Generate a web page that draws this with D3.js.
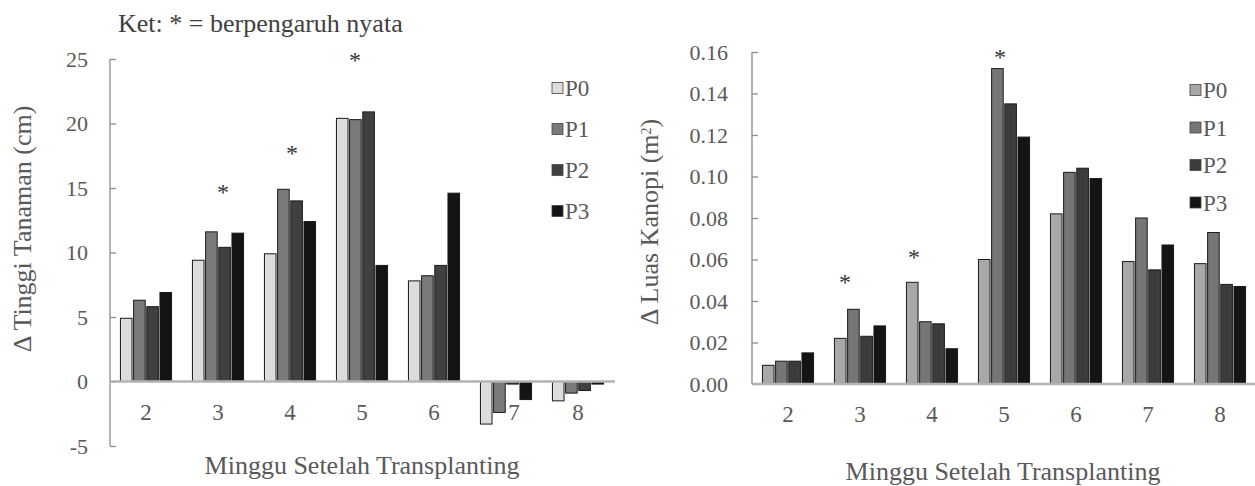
<!DOCTYPE html>
<meta charset="utf-8">
<style>
  body { margin: 0; background: #fff; }
  svg text { fill: #595959; }
</style>
<body></body>
<script src="https://d3js.org/d3.v7.min.js"></script>
<script>
  var weeks = ["2", "3", "4", "5", "6", "7", "8"];
  var series = ["P0", "P1", "P2", "P3"];

  // delta plant height (cm), one array per treatment
  var tinggiP0 = [4.9, 9.4, 9.9, 20.4, 7.8, -3.3, -1.5];
  var tinggiP1 = [6.3, 11.6, 14.9, 20.3, 8.2, -2.4, -0.9];
  var tinggiP2 = [5.8, 10.4, 14.0, 20.9, 9.0, -0.2, -0.7];
  var tinggiP3 = [6.9, 11.5, 12.4, 9.0, 14.6, -1.4, -0.2];
  var tinggiTicks = [-5, 0, 5, 10, 15, 20, 25];
  var tinggiStars = [null, 15.0, 18.0, 25.2, null, null, null];

  // delta canopy area (m2)
  var luasP0 = [0.009, 0.022, 0.049, 0.060, 0.082, 0.059, 0.058];
  var luasP1 = [0.011, 0.036, 0.030, 0.152, 0.102, 0.080, 0.073];
  var luasP2 = [0.011, 0.023, 0.029, 0.135, 0.104, 0.055, 0.048];
  var luasP3 = [0.015, 0.028, 0.017, 0.119, 0.099, 0.067, 0.047];
  var luasTicks = [0, 0.02, 0.04, 0.06, 0.08, 0.10, 0.12, 0.14, 0.16];
  var luasStars = [null, 0.051, 0.063, 0.1595, null, null, null];

  var serif = "'Liberation Serif'";

  var svg = d3.select("body").append("svg")
    .attr("width", 1255)
    .attr("height", 486);

  function label(sel) {
    return sel.append("text").style("font-family", serif);
  }

  function drawChart(opt) {
    var x = d3.scaleBand().domain(weeks).range([opt.left, opt.right]).paddingInner(0.29).paddingOuter(0.145);
    var xs = d3.scaleBand().domain(series).range([0, x.bandwidth()]).paddingInner(0.12);
    var y = d3.scaleLinear().domain(opt.domain).range([opt.bottom, opt.top]);

    var g = svg.append("g");

    // y axis (ticks point inside)
    var yAxis = g.append("g")
      .attr("transform", "translate(" + opt.left + ",0)")
      .call(d3.axisRight(y).tickValues(opt.ticks).tickSize(6).tickFormat(""));
    yAxis.selectAll("line, path").attr("stroke", "#8c8c8c").attr("stroke-width", 1.3);
    yAxis.select(".domain").attr("d", "M0," + y(opt.domain[0]) + "V" + y(opt.domain[1]));

    g.selectAll(".ytl").data(opt.ticks).enter().append("text")
      .style("font-family", serif)
      .attr("x", opt.left - opt.tickGap)
      .attr("y", function(d) { return y(d); })
      .attr("dy", "0.35em")
      .attr("text-anchor", "end")
      .style("font-size", "22px")
      .text(opt.fmt);

    // bars
    var rows = [];
    weeks.forEach(function(w, i) {
      series.forEach(function(s, j) {
        rows.push({ w: w, s: s, v: opt.values[j][i] });
      });
    });
    g.selectAll(".bar").data(rows).enter().append("rect")
      .attr("x", function(d) { return x(d.w) + xs(d.s); })
      .attr("width", xs.bandwidth())
      .attr("y", function(d) { return y(Math.max(0, d.v)); })
      .attr("height", function(d) { return Math.abs(y(d.v) - y(0)); })
      .attr("fill", function(d) { return opt.colors[series.indexOf(d.s)]; })
      .attr("stroke", "#1a1a1a")
      .attr("stroke-width", 1);

    // zero line
    g.append("line")
      .attr("x1", opt.left).attr("x2", opt.lineEnd)
      .attr("y1", y(0)).attr("y2", y(0))
      .attr("stroke", "#b3b3b3").attr("stroke-width", 2.5);

    // category labels
    g.selectAll(".xtl").data(weeks).enter().append("text")
      .style("font-family", serif)
      .attr("x", function(d) { return x(d) + x.bandwidth() / 2 + (d === "7" && opt.shift7 ? 8 : 0); })
      .attr("y", opt.catY)
      .attr("text-anchor", "middle")
      .style("font-size", "23px")
      .text(function(d) { return d; });

    // significance stars
    g.selectAll(".star").data(opt.stars.map(function(v, i) { return { w: weeks[i], v: v, i: i }; })
        .filter(function(d) { return d.v !== null; }))
      .enter().append("text")
      .style("font-family", serif)
      .attr("x", function(d) { return x(d.w) + x.bandwidth() / 2 + opt.starShift[d.i]; })
      .attr("y", function(d) { return y(d.v); })
      .attr("dy", "0.5em")
      .attr("text-anchor", "middle")
      .style("font-size", "24px")
      .style("fill", "#333")
      .text("*");

    // legend
    var leg = g.selectAll(".leg").data(series).enter().append("g")
      .attr("transform", function(d, i) { return "translate(" + opt.legX + "," + (opt.legY + i * opt.legStep) + ")"; });
    leg.append("rect")
      .attr("x", 0).attr("y", -5.5).attr("width", 11).attr("height", 11)
      .attr("fill", function(d, i) { return opt.colors[i]; })
      .attr("stroke", "#444").attr("stroke-width", 0.8);
    leg.append("text")
      .style("font-family", serif)
      .attr("x", 13).attr("dy", "0.35em")
      .style("font-size", "23px")
      .text(function(d) { return d; });

    // axis titles
    label(g)
      .attr("transform", "translate(" + opt.yTitleX + "," + opt.yTitleY + ") rotate(-90)")
      .attr("dy", "0.35em")
      .attr("text-anchor", "middle")
      .style("font-size", "26px")
      .html(opt.yTitle);

    label(g)
      .attr("x", opt.xTitleX)
      .attr("y", opt.xTitleY)
      .attr("text-anchor", "middle")
      .style("font-size", "26px")
      .text("Minggu Setelah Transplanting");
  }

  drawChart({
    left: 110, right: 614, lineEnd: 615, top: 59, bottom: 446,
    domain: [-5, 25], ticks: tinggiTicks, tickGap: 22,
    fmt: function(d) { return d; },
    values: [tinggiP0, tinggiP1, tinggiP2, tinggiP3],
    stars: tinggiStars, starShift: [0, 5, 2, -7, 0, 0, 0],
    colors: ["#dcdcdc", "#7a7a7a", "#404040", "#141414"],
    catY: 420, shift7: true,
    legX: 552, legY: 88, legStep: 41,
    yTitle: "Δ Tinggi Tanaman (cm)", yTitleX: 22, yTitleY: 229,
    xTitleX: 362, xTitleY: 474
  });

  drawChart({
    left: 752, right: 1256, lineEnd: 1255, top: 52, bottom: 384,
    domain: [0, 0.16], ticks: luasTicks, tickGap: 24,
    fmt: d3.format(".2f"),
    values: [luasP0, luasP1, luasP2, luasP3],
    stars: luasStars, starShift: [0, -15, -18, -4, 0, 0, 0],
    colors: ["#a8a8a8", "#767676", "#3c3c3c", "#141414"],
    catY: 422, shift7: false,
    legX: 1190, legY: 90, legStep: 37.5,
    yTitle: "Δ Luas Kanopi (m<tspan baseline-shift='super' font-size='14px'>2</tspan>)", yTitleX: 649, yTitleY: 222,
    xTitleX: 1003, xTitleY: 480
  });

  label(svg)
    .attr("x", 118)
    .attr("y", 32)
    .style("font-size", "26px")
    .style("fill", "#404040")
    .text("Ket: * = berpengaruh nyata");
</script>
